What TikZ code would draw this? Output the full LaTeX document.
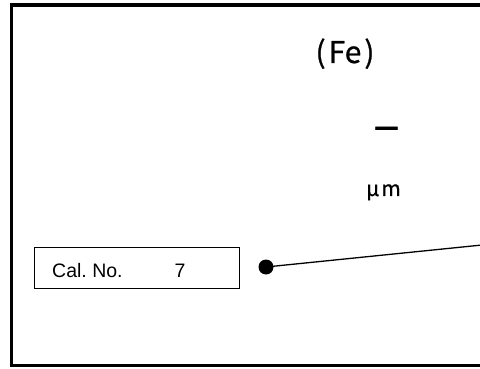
\documentclass[tikz,border=0pt]{standalone}
\usepackage{fontspec}
\setmainfont{Liberation Sans}
\newfontfamily\jpfont[FakeBold=0.8]{Noto Sans CJK JP}
\begin{document}
\begin{tikzpicture}[x=1pt,y=-1pt,
  frame/.style={line width=3.5pt},
  jptext/.style={inner sep=0pt},
  calbox/.style={draw,line width=0.8pt,minimum width=205pt,minimum height=41pt,inner sep=0pt},
  caltxt/.style={anchor=base west,inner sep=0pt,font=\fontsize{19.5}{22}\selectfont},
  leader/.style={line width=1.3pt}]
\useasboundingbox (0,0) rectangle (480,369);
\fill[white] (0,0) rectangle (480,369);
\draw[frame] (482,5) -- (11.5,5) -- (11.5,365.5) -- (482,365.5);
\node[jptext,anchor=base,font=\jpfont\fontsize{30}{32}\selectfont] (fe) at (345,63) {(\hspace{3pt}Fe\hspace{3pt})};
\node[jptext,font=\jpfont\bfseries\fontsize{27}{28}\selectfont] (dash) at (386.5,131.5) {—};
\node[jptext,anchor=base,font=\jpfont\fontsize{21}{22}\selectfont] (um) at (383.5,196) {μ\hspace{2pt}m};
\node[calbox] (cal) at (136.5,267.5) {};
\node[caltxt] (caltext) at (52,277) {Cal.\ No.};
\node[caltxt] (calnum) at (174.5,277) {7};
\node[circle,fill=black,minimum size=15pt,inner sep=0pt] (dot) at (266,267) {};
\coordinate (lend) at (482,245);
\draw[leader] (dot.center) -- (lend);
\end{tikzpicture}
\end{document}
